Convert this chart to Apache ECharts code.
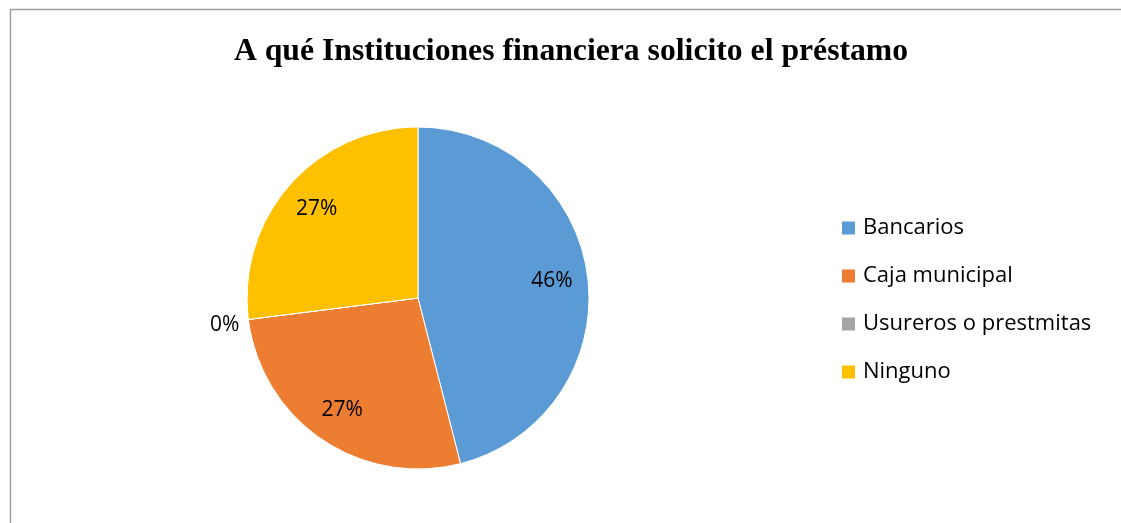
<!DOCTYPE html>
<html>
<head>
<meta charset="utf-8">
<script src="https://cdn.jsdelivr.net/npm/echarts@6/dist/echarts.min.js"></script>
<style>html,body{margin:0;padding:0;background:#fff}#c{width:1121px;height:523px}</style>
</head>
<body>
<div id="c"></div>
<script>
const titleText = 'A qué Instituciones financiera solicito el préstamo';
const categories = ['Bancarios', 'Caja municipal', 'Usureros o prestmitas', 'Ninguno'];
const values = [46, 27, 0, 27];
const colors = ['#5B9BD5', '#ED7D31', '#A5A5A5', '#FFC000'];

const chart = echarts.init(document.getElementById('c'), null, {renderer: 'canvas'});
const labelFont = '"Open Sans", "Noto Sans", sans-serif';

const mainData = categories.map((name, i) => ({
  name, value: values[i],
  itemStyle: {color: colors[i]},
  label: values[i] === 0 ? {show: true, position: 'outside', offset: [-4, 6]} : {show: false},
  labelLine: {show: false}
}));
const labelData = categories.map((name, i) => ({
  name, value: values[i],
  label: {show: values[i] !== 0}
}));

chart.setOption({
  animation: false,
  title: {
    text: titleText, left: 566, textAlign: 'center', top: 31,
    textStyle: {fontFamily: '"Liberation Serif", "Times New Roman", serif', fontWeight: 'bold', fontSize: 31.7, color: '#000'}
  },
  graphic: [{
    type: 'rect', silent: true, z: -1,
    shape: {x: 10.5, y: 9.5, width: 1200, height: 600},
    style: {fill: 'none', stroke: '#a0a0a0', lineWidth: 1.5}
  }],
  legend: {
    orient: 'vertical', left: 840, top: 216, padding: 0,
    data: categories,
    icon: 'rect', itemWidth: 15, itemHeight: 15, itemGap: 24,
    textStyle: {fontFamily: labelFont, fontSize: 22, color: '#000', lineHeight: 24, padding: [0, 0, 0, 2]}
  },
  series: [{
    type: 'pie', center: [418, 298], radius: [0, 171],
    startAngle: 90, clockwise: true,
    avoidLabelOverlap: false,
    itemStyle: {borderColor: '#fff', borderWidth: 1},
    label: {formatter: '{d}%', fontFamily: labelFont, fontSize: 21, color: '#000', distanceToLabelLine: 5},
    labelLine: {show: false, length: 0, length2: 0},
    emphasis: {disabled: true},
    data: mainData
  }, {
    type: 'pie', center: [418, 298], radius: [100, 164],
    startAngle: 90, clockwise: true, silent: true,
    avoidLabelOverlap: false,
    itemStyle: {color: 'rgba(0,0,0,0)'},
    label: {position: 'inside', formatter: '{d}%', fontFamily: labelFont, fontSize: 21, color: '#000'},
    labelLine: {show: false},
    emphasis: {disabled: true},
    tooltip: {show: false},
    data: labelData
  }]
});
</script>
</body>
</html>
